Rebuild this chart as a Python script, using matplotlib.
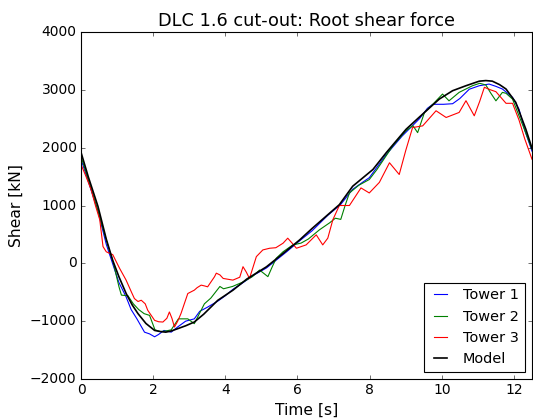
import matplotlib
matplotlib.use("Agg")
import matplotlib.pyplot as plt

plt.style.use("classic")

# ---- data ----
t_model = [0, 0.2, 0.47, 0.7, 0.88, 1.05, 1.25, 1.42, 1.58, 1.8, 2.04, 2.2, 2.35, 2.5, 2.68,
           2.9, 3.14, 3.4, 3.79, 4.21, 4.6, 5.14, 5.6, 6.06, 6.4, 6.84, 7.16, 7.53, 8.09, 8.46,
           9.01, 9.38, 9.93, 10.3, 10.67, 11.04, 11.22, 11.4, 11.6, 11.78, 12.05, 12.33, 12.5]
v_model = [1920, 1500, 985, 420, 50, -230, -520, -720, -870, -1040, -1160, -1180, -1190, -1170, -1130,
           -1080, -1015, -880, -640, -465, -270, -60, 170, 405, 600, 840, 1014, 1333, 1622, 1913,
           2318, 2530, 2840, 2985, 3071, 3150, 3160, 3150, 3090, 3014, 2783, 2318, 1990]

t_tower1 = [0, 0.2, 0.47, 0.7, 0.9, 1.05, 1.25, 1.39, 1.55, 1.76, 1.9, 2.04, 2.15, 2.3, 2.5, 2.68,
            2.9, 3.14, 3.29, 3.5, 3.8, 4.0, 4.21, 4.5, 4.8, 5.14, 5.4, 5.7, 6.06, 6.4, 6.84, 7.2,
            7.53, 7.8, 7.99, 8.46, 8.9, 9.38, 9.6, 9.75, 10.05, 10.3, 10.5, 10.76, 11.04, 11.31,
            11.5, 11.68, 11.96, 12.14, 12.3, 12.5]
v_tower1 = [1800, 1420, 900, 330, -50, -330, -580, -800, -960, -1190, -1220, -1270, -1230, -1160, -1190, -1100,
            -1000, -960, -830, -760, -650, -560, -450, -330, -200, -80, 50, 200, 390, 560, 830, 1020,
            1280, 1400, 1480, 1880, 2200, 2500, 2680, 2750, 2750, 2760, 2850, 3010, 3071, 3100,
            3060, 3014, 2870, 2666, 2300, 1940]

t_tower2 = [0, 0.2, 0.45, 0.7, 0.9, 1.05, 1.12, 1.3, 1.45, 1.6, 1.75, 1.9, 2.05, 2.2, 2.35, 2.5,
            2.7, 2.96, 3.14, 3.42, 3.6, 3.75, 3.85, 3.95, 4.2, 4.5, 4.75, 4.95, 5.18, 5.3, 5.41,
            5.6, 5.87, 6.1, 6.3, 6.61, 6.89, 7.05, 7.2, 7.32, 7.44, 7.7, 7.99, 8.2, 8.64, 9.0,
            9.2, 9.33, 9.52, 9.75, 10.02, 10.2, 10.48, 10.85, 11.05, 11.22, 11.35, 11.5, 11.68,
            11.78, 11.96, 12.14, 12.3, 12.5]
v_tower2 = [1850, 1450, 950, 400, 0, -400, -550, -560, -700, -800, -870, -900, -1150, -1180, -1170, -1150,
            -960, -960, -1043, -700, -600, -480, -400, -440, -400, -320, -230, -116, -230, -60, 87,
            200, 318, 350, 420, 580, 700, 780, 760, 1000, 1217, 1350, 1449, 1620, 2029, 2290,
            2380, 2260, 2608, 2750, 2927, 2810, 2956, 3071, 3113, 3084, 2950, 2810, 2956,
            2940, 2840, 2550, 2300, 1970]

t_tower3 = [0, 0.14, 0.28, 0.4, 0.52, 0.61, 0.7, 0.79, 0.88, 1.07, 1.25, 1.4, 1.48, 1.58, 1.67,
            1.78, 1.85, 2.04, 2.15, 2.27, 2.38, 2.45, 2.52, 2.59, 2.68, 2.77, 2.96, 3.14, 3.22,
            3.33, 3.42, 3.51, 3.7, 3.75, 3.85, 3.94, 4.21, 4.4, 4.49, 4.58, 4.67, 4.86, 5.04,
            5.23, 5.4, 5.6, 5.73, 5.85, 5.97, 6.24, 6.52, 6.7, 6.84, 6.98, 7.16, 7.44, 7.76,
            7.99, 8.27, 8.55, 8.82, 9.0, 9.19, 9.47, 9.84, 10.12, 10.48, 10.67, 10.9, 11.05,
            11.18, 11.35, 11.5, 11.78, 11.96, 12.14, 12.3, 12.5]
v_tower3 = [1710, 1500, 1275, 1000, 753, 290, 200, 174, 150, -87, -290, -500, -609, -660, -638,
            -700, -812, -986, -1010, -1015, -950, -841, -950, -1102, -1000, -870, -522, -464, -420,
            -377, -390, -406, -232, -170, -200, -261, -290, -240, -58, -150, -261, 116, 232,
            261, 270, 348, 435, 350, 261, 319, 493, 319, 435, 753, 1000, 1000, 1304,
            1217, 1400, 1739, 1536, 1950, 2348, 2377, 2638, 2522, 2609, 2812, 2551, 2800,
            3044, 3000, 2968, 2767, 2767, 2478, 2150, 1800]

series_labels = ["Tower 1", "Tower 2", "Tower 3", "Model"]
title = "DLC 1.6 cut-out: Root shear force"
xlabel = "Time [s]"
ylabel = "Shear [kN]"

# ---- plot ----
fig = plt.figure(figsize=(533 / 80, 418 / 80), dpi=80, facecolor="white")
ax = fig.add_axes([81 / 533, 1 - 379 / 418, 451 / 533, 347 / 418])

ax.plot(t_tower1, v_tower1, color="b", lw=1.0, label=series_labels[0])
ax.plot(t_tower2, v_tower2, color="g", lw=1.0, label=series_labels[1])
ax.plot(t_tower3, v_tower3, color="r", lw=1.0, label=series_labels[2])
ax.plot(t_model, v_model, color="k", lw=1.5, label=series_labels[3])

ax.set_xlim(0, 12.5)
ax.set_ylim(-2000, 4000)
ax.set_xticks([0, 2, 4, 6, 8, 10, 12])
ax.set_yticks([-2000, -1000, 0, 1000, 2000, 3000, 4000])
ax.tick_params(labelsize=12.5)
ax.set_title(title, fontsize=16)
ax.set_xlabel(xlabel, fontsize=14)
ax.set_ylabel(ylabel, fontsize=14)
ax.legend(loc="lower right", handlelength=1.5, fontsize=13)

fig.savefig("out.png", dpi=80, facecolor="white")
